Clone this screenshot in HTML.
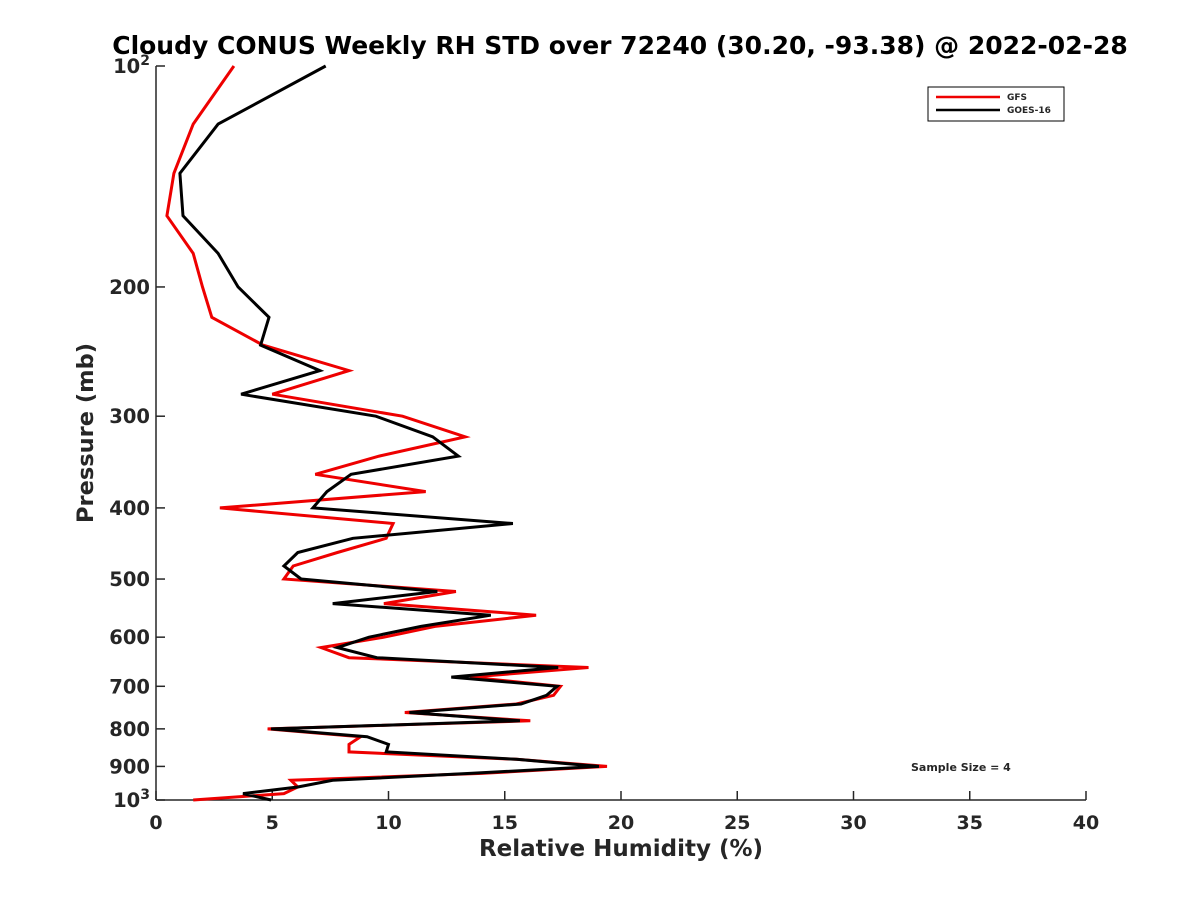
<!DOCTYPE html>
<html><head><meta charset="utf-8"><style>
body{margin:0;background:#fff;font-family:"Liberation Sans","DejaVu Sans",sans-serif}
svg text{font-family:"DejaVu Sans","Liberation Sans",sans-serif;font-weight:bold;fill:#262626}
</style></head><body>
<svg id="chart" width="1200" height="900">
<rect width="1200" height="900" fill="#fff"/>
<text x="620" y="54" text-anchor="middle" font-size="25" fill="#000" style="fill:#000">Cloudy CONUS Weekly RH STD over 72240 (30.20, -93.38) @ 2022-02-28</text>
<g id="axes"></g>
<g id="series"></g>
<g>
<rect x="928" y="87" width="136" height="34" fill="#fff" stroke="#000" stroke-width="1"/>
<line x1="936" y1="97" x2="1000" y2="97" stroke="#e00" stroke-width="2.5"/>
<text x="1007" y="100" font-size="9">GFS</text>
<line x1="936" y1="110" x2="1000" y2="110" stroke="#000" stroke-width="2.5"/>
<text x="1007" y="113" font-size="9">GOES-16</text>
</g>
<text x="911" y="771" font-size="11">Sample Size = 4</text>
<text x="621" y="856" text-anchor="middle" font-size="23">Relative Humidity (%)</text>
<text transform="translate(93,433) rotate(-90)" text-anchor="middle" font-size="22.5">Pressure (mb)</text>
</svg>
<script>
const pressures=[100,120,140,160,180,200,220,240,260,280,300,320,340,360,380,400,420,440,460,480,500,520,540,560,580,600,620,640,660,680,700,720,740,760,780,800,820,840,860,880,900,920,940,960,980,1000];
const gfsValues=[3.35,1.6,0.77,0.47,1.6,2.0,2.4,4.6,8.3,5.0,10.6,13.3,9.6,6.85,11.6,2.75,10.2,9.9,7.8,5.9,5.5,12.9,9.8,16.35,12.0,9.8,7.1,8.3,18.6,13.5,17.4,17.1,15.5,10.7,16.1,4.8,8.8,8.3,8.3,15.5,19.4,14.0,5.8,6.1,5.5,1.6];
const goesValues=[7.3,2.67,1.03,1.16,2.67,3.53,4.86,4.5,7.05,3.66,9.46,11.9,13.0,8.39,7.35,6.75,15.35,8.47,6.1,5.5,6.24,12.1,7.6,14.4,11.4,9.16,7.8,9.5,17.3,12.7,17.25,16.8,15.7,10.9,15.65,4.95,9.08,10.0,9.9,15.5,19.05,13.5,7.6,6.1,3.74,4.95];
const xTicks=[0,5,10,15,20,25,30,35,40];
const yTicks=[200,300,400,500,600,700,800,900];
const NS="http://www.w3.org/2000/svg";
const X0=156,X1=1086,Y0=66,Y1=800;
const xs=v=>X0+(v-0)/(40-0)*(X1-X0);
const ys=p=>Y0+Math.log10(p/100)*(Y1-Y0);
const axes=document.getElementById('axes');
function mk(tag,attrs,parent){const e=document.createElementNS(NS,tag);for(const k in attrs)e.setAttribute(k,attrs[k]);parent.appendChild(e);return e;}
const yAxis=mk('line',{x1:X0,y1:Y0,x2:X0,y2:Y1,stroke:'#262626','stroke-width':1.5},axes);


const xAxis=mk('line',{x1:X0,y1:Y1,x2:X1,y2:Y1,stroke:'#262626','stroke-width':1.5},axes);


xTicks.forEach(v=>{
  const t=mk('line',{x1:xs(v),y1:Y1,x2:xs(v),y2:Y1-9,stroke:'#262626','stroke-width':1.5},axes);
  
  
  const l=mk('text',{x:xs(v),y:Y1+29,'text-anchor':'middle','font-size':19},axes);
  
  
  l.textContent=v;
});
yTicks.concat([100,1000]).forEach(p=>{
  const t=mk('line',{x1:X0,y1:ys(p),x2:X0+9,y2:ys(p),stroke:'#262626','stroke-width':1.5},axes);
  
  
});
yTicks.forEach(p=>{
  const l=mk('text',{x:X0-6,y:ys(p)+7,'text-anchor':'end','font-size':19.5},axes);
  
  
  l.textContent=p;
});
[[100,'2'],[1000,'3']].forEach(([p,e])=>{
  const l=mk('text',{x:X0-6,y:ys(p)+7,'text-anchor':'end','font-size':19.5},axes);
  
  
  l.innerHTML='10<tspan dy="-8" font-size="14">'+e+'</tspan>';
});
const series=document.getElementById('series');
function line(vals,color,name){
  const d=vals.map((v,i)=>(i?'L':'M')+xs(v).toFixed(1)+','+ys(pressures[i]).toFixed(1)).join(' ');
  const p=mk('path',{d:d,fill:'none',stroke:color,'stroke-width':3,'stroke-linejoin':'miter'},series);
  
  
}
line(gfsValues,'#e00','gfs-line');
line(goesValues,'#000','goes16-line');
</script>
</body></html>
